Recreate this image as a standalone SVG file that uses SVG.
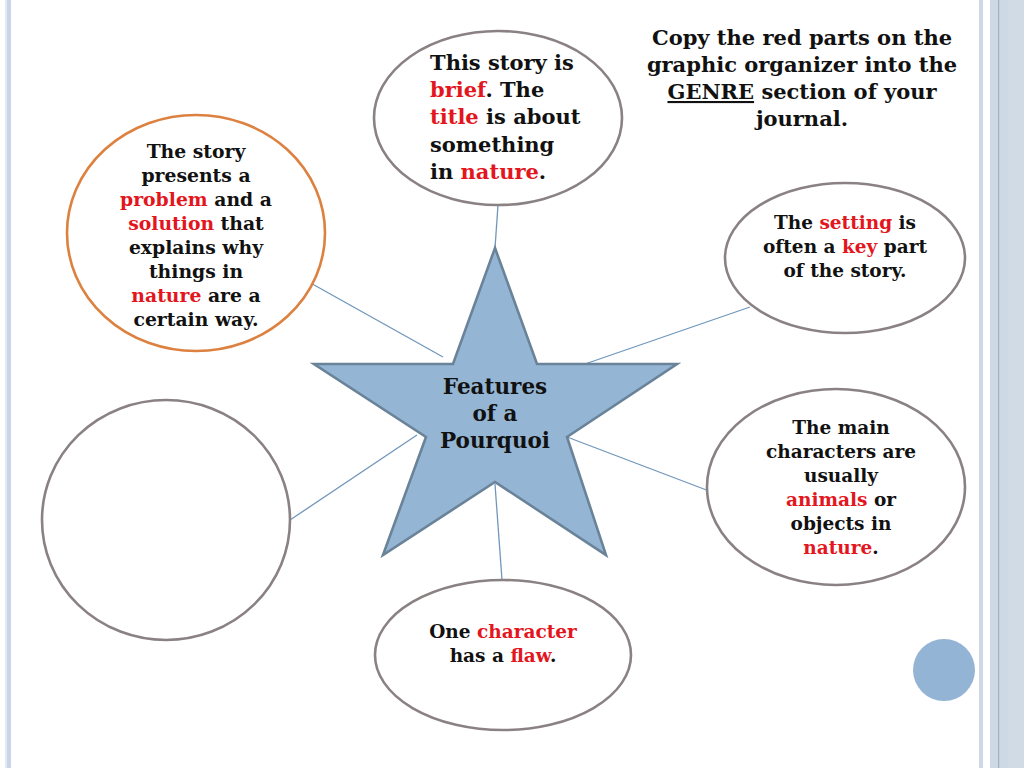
<svg xmlns="http://www.w3.org/2000/svg" width="1024" height="768" viewBox="0 0 1024 768">
<style>
.t{font-family:"DejaVu Serif","Liberation Serif",serif;font-weight:bold;fill:#111;}
.m{text-anchor:middle;}
.r{fill:#e3161e;}
.s{font-size:18.5px;}
.node{fill:#fff;stroke:#8a8183;stroke-width:2.6;}
.conn{stroke:#7097bb;stroke-width:1.3;fill:none;}
</style>
<rect width="1024" height="768" fill="#fff"/>
<g id="frame">
<rect x="5" y="0" width="2" height="768" fill="#e2e9f2"/>
<rect x="7" y="0" width="4" height="768" fill="#c9d5e8"/>
<rect x="979" y="0" width="4" height="768" fill="#cdd9e5"/>
<rect x="990" y="0" width="34" height="768" fill="#cdd9e4"/>
<rect x="998" y="0" width="1.2" height="768" fill="#a3b0bd"/>
<rect x="1008" y="0" width="16" height="768" fill="#d0dbe6"/>
</g>
<g id="connectors">
<line class="conn" x1="498" y1="205" x2="495" y2="248"/>
<line class="conn" x1="307" y1="281" x2="443" y2="357"/>
<line class="conn" x1="750" y1="307" x2="585" y2="364"/>
<line class="conn" x1="290" y1="520" x2="417" y2="435"/>
<line class="conn" x1="567" y1="437" x2="717" y2="494"/>
<line class="conn" x1="495" y1="484" x2="502" y2="580"/>
</g>
<g id="star">
<polygon points="495,248 537,364 677,364 567,437 606,555 495,482 383,555 426,437 314,364 453,364" fill="#94b6d4" stroke="#6a8399" stroke-width="2.6" stroke-linejoin="miter"/>
<text class="t m" font-size="21.5" x="495" y="394">Features</text>
<text class="t m" font-size="21.5" x="495" y="421">of a</text>
<text class="t m" font-size="21.5" x="495" y="448">Pourquoi</text>
</g>
<g id="node-top">
<ellipse class="node" cx="498" cy="118" rx="124" ry="87"/>
<text class="t" font-size="21" x="430" y="70">This story is</text>
<text class="t" font-size="21" x="430" y="97"><tspan class="r">brief</tspan>. The</text>
<text class="t" font-size="21" x="430" y="124"><tspan class="r">title</tspan> is about</text>
<text class="t" font-size="21" x="430" y="152">something</text>
<text class="t" font-size="21" x="430" y="179">in <tspan class="r">nature</tspan>.</text>
</g>
<g id="node-left">
<ellipse cx="196" cy="233" rx="129" ry="118" fill="#fff" stroke="#dc813f" stroke-width="2.6"/>
<text class="t m" font-size="18.8" x="196" y="158">The story</text>
<text class="t m" font-size="18.8" x="196" y="182">presents a</text>
<text class="t m" font-size="18.8" x="196" y="206"><tspan class="r">problem</tspan> and a</text>
<text class="t m" font-size="18.8" x="196" y="230"><tspan class="r">solution</tspan> that</text>
<text class="t m" font-size="18.8" x="196" y="254">explains why</text>
<text class="t m" font-size="18.8" x="196" y="278">things in</text>
<text class="t m" font-size="18.8" x="196" y="302"><tspan class="r">nature</tspan> are a</text>
<text class="t m" font-size="18.8" x="196" y="326">certain way.</text>
</g>
<g id="node-right-upper">
<ellipse class="node" cx="845" cy="258" rx="120" ry="75"/>
<text class="t m s" x="845" y="229">The <tspan class="r">setting</tspan> is</text>
<text class="t m s" x="845" y="253">often a <tspan class="r">key</tspan> part</text>
<text class="t m s" x="845" y="277">of the story.</text>
</g>
<g id="node-left-lower">
<ellipse class="node" cx="166" cy="520" rx="124" ry="120"/>
</g>
<g id="node-right-lower">
<ellipse class="node" cx="836" cy="487" rx="129" ry="98"/>
<text class="t m s" x="841" y="434">The main</text>
<text class="t m s" x="841" y="458">characters are</text>
<text class="t m s" x="841" y="482">usually</text>
<text class="t m s" x="841" y="506"><tspan class="r">animals</tspan> or</text>
<text class="t m s" x="841" y="530">objects in</text>
<text class="t m s" x="841" y="554"><tspan class="r">nature</tspan>.</text>
</g>
<g id="node-bottom">
<ellipse class="node" cx="503" cy="655" rx="128" ry="75"/>
<text class="t m s" x="503" y="638">One <tspan class="r">character</tspan></text>
<text class="t m s" x="503" y="662">has a <tspan class="r">flaw</tspan>.</text>
</g>
<g id="instructions">
<text class="t m" font-size="21" x="802" y="45">Copy the red parts on the</text>
<text class="t m" font-size="21" x="802" y="72">graphic organizer into the</text>
<text class="t m" font-size="21" x="802" y="99"><tspan text-decoration="underline">GENRE</tspan> section of your</text>
<text class="t m" font-size="21" x="802" y="126">journal.</text>
</g>
<g id="dot">
<circle cx="944" cy="670" r="31" fill="#93b4d4"/>
</g>
</svg>
